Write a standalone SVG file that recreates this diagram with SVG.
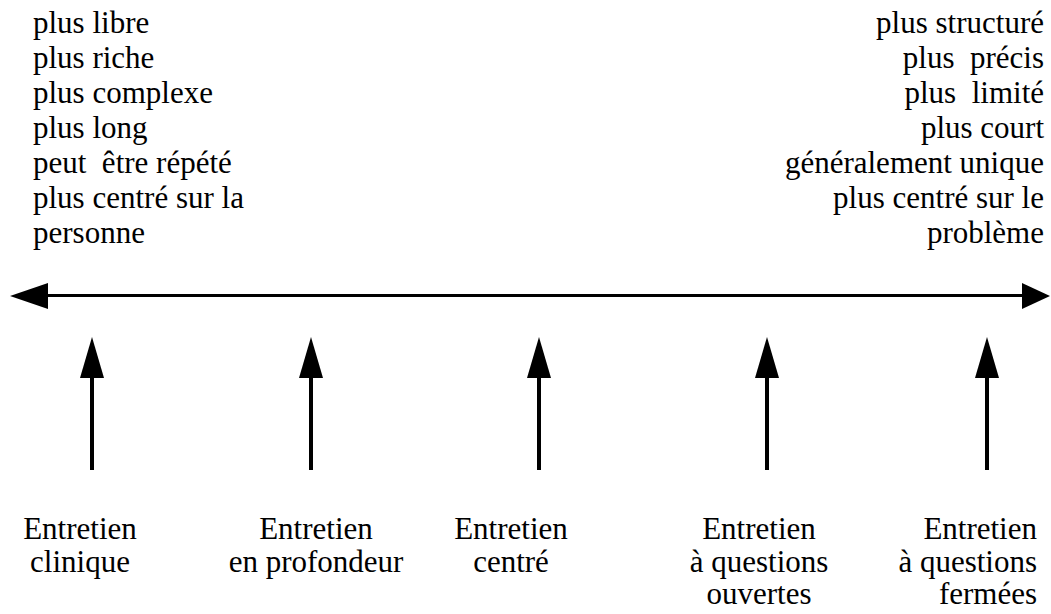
<svg xmlns="http://www.w3.org/2000/svg" width="1051" height="614" viewBox="0 0 1051 614">
<style>
text{font-family:'Liberation Serif','Times New Roman',Times,serif;font-size:31px;fill:#000}
.r{text-anchor:end}
.m{text-anchor:middle}
.ln{stroke:#000;fill:none}
.hd{fill:#000;stroke:none}
</style>
<rect width="1051" height="614" fill="#fff"/>
<g id="left-list">
<text x="33" y="33">plus libre</text>
<text x="33" y="68">plus riche</text>
<text x="33" y="103">plus complexe</text>
<text x="33" y="138">plus long</text>
<text x="33" y="173" xml:space="preserve">peut  être répété</text>
<text x="33" y="208">plus centré sur la</text>
<text x="33" y="243">personne</text>
</g>
<g id="right-list">
<text class="r" x="1044" y="33">plus structuré</text>
<text class="r" x="1044" y="68" xml:space="preserve">plus  précis</text>
<text class="r" x="1044" y="103" xml:space="preserve">plus  limité</text>
<text class="r" x="1044" y="138">plus court</text>
<text class="r" x="1044" y="173">généralement unique</text>
<text class="r" x="1044" y="208">plus centré sur le</text>
<text class="r" x="1044" y="243">problème</text>
</g>
<g id="connectors">
<line class="ln" x1="45" y1="295.5" x2="1025" y2="295.5" stroke-width="3"/>
<polygon class="hd" points="10,296 48,283 48,309"/>
<polygon class="hd" points="1050,296 1022,283 1022,309"/>
<g id="arrow-1"><line class="ln" x1="92" y1="376" x2="92" y2="470" stroke-width="4"/><polygon class="hd" points="92,337 80,378 104,378"/></g>
<g id="arrow-2"><line class="ln" x1="311" y1="376" x2="311" y2="470" stroke-width="4"/><polygon class="hd" points="311,337 299,378 323,378"/></g>
<g id="arrow-3"><line class="ln" x1="539" y1="376" x2="539" y2="470" stroke-width="4"/><polygon class="hd" points="539,337 527,378 551,378"/></g>
<g id="arrow-4"><line class="ln" x1="767" y1="376" x2="767" y2="470" stroke-width="4"/><polygon class="hd" points="767,337 755,378 779,378"/></g>
<g id="arrow-5"><line class="ln" x1="987" y1="376" x2="987" y2="470" stroke-width="4"/><polygon class="hd" points="987,337 975,378 999,378"/></g>
</g>
<g id="node-clinique">
<text class="m" x="80" y="539">Entretien</text>
<text class="m" x="80" y="572">clinique</text>
</g>
<g id="node-profondeur">
<text class="m" x="316" y="539">Entretien</text>
<text class="m" x="316" y="572">en profondeur</text>
</g>
<g id="node-centre">
<text class="m" x="511" y="539">Entretien</text>
<text class="m" x="511" y="572">centré</text>
</g>
<g id="node-ouvertes">
<text class="m" x="759" y="539">Entretien</text>
<text class="m" x="759" y="572">à questions</text>
<text class="m" x="759" y="604">ouvertes</text>
</g>
<g id="node-fermees">
<text class="r" x="1037" y="539">Entretien</text>
<text class="r" x="1037" y="572">à questions</text>
<text class="r" x="1037" y="604">fermées</text>
</g>
</svg>
